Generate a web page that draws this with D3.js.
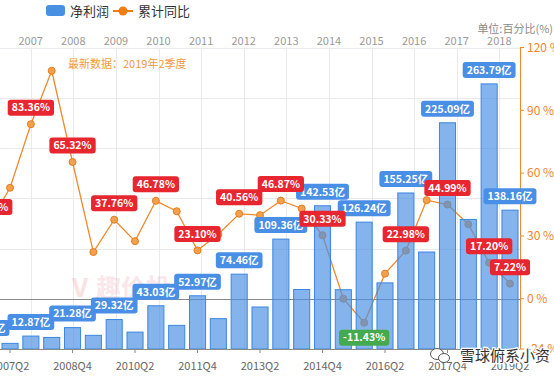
<!DOCTYPE html>
<html>
<head>
<meta charset="utf-8">
<script src="https://cdn.jsdelivr.net/npm/d3@7"></script>
<style>
  body { margin: 0; background: #fff; }
  svg { display: block; font-family: "Microsoft YaHei", "Noto Sans CJK SC", sans-serif; }
</style>
</head>
<body>
<div id="chart"></div>
<script>
var periods = ["2006Q4", "2007Q2", "2007Q4", "2008Q2", "2008Q4", "2009Q2", "2009Q4", "2010Q2", "2010Q4",
    "2011Q2", "2011Q4", "2012Q2", "2012Q4", "2013Q2", "2013Q4", "2014Q2", "2014Q4", "2015Q2", "2015Q4",
    "2016Q2", "2016Q4", "2017Q2", "2017Q4", "2018Q2", "2018Q4", "2019Q2"];
// 净利润 (亿)
var profit = [7.02, 5.6, 12.87, 11.5, 21.28, 13.6, 29.32, 16.8, 43.03, 23.5, 52.97, 30.2, 74.46,
    41.8, 109.36, 59.2, 142.53, 59.0, 126.24, 65.8, 155.25, 96.5, 225.09, 128.9, 263.79, 138.16];
// 累计同比 (%)
var growth = [36.0, 53.0, 83.36, 108.9, 65.32, 22.3, 37.76, 27.5, 46.78, 41.8, 23.10, 30.8, 40.56,
    39.9, 46.87, 43.1, 30.33, 0.0, -11.43, 12.0, 22.98, 47.1, 44.99, 35.6, 17.20, 7.22];
var bottomTicks = ["2007Q2", "2008Q4", "2010Q2", "2011Q4", "2013Q2", "2014Q4", "2016Q2", "2017Q4", "2019Q2"];
var years = [2007, 2008, 2009, 2010, 2011, 2012, 2013, 2014, 2015, 2016, 2017, 2018];
var rightTicks = [120, 90, 60, 30, 0, -24];
var leftTicks = [0, 50, 100, 150, 200, 250, 300];

var width = 554, height = 381,
    plotTop = 47.5, plotBottom = 349, plotLeft = -21.2, plotRight = 520.4,
    axisX = 520;

var data = periods.map(function (p, i) {
    return { period: p, profit: profit[i], growth: growth[i],
        labeled: /Q4$/.test(p) || i === periods.length - 1 };
});

var x = d3.scaleBand().domain(periods).range([plotLeft, plotRight]).paddingInner(0.18).paddingOuter(0.09);
var yL = d3.scaleLinear().domain([0, 300]).range([plotBottom, plotTop]);
var yR = d3.scaleLinear().domain([-24, 120]).range([plotBottom, plotTop]);
var xYear = d3.scaleLinear().domain([2007, 2018]).range([30.7, 499.3]);
var cx = function (d) { return x(d.period) + x.bandwidth() / 2; };

var svg = d3.select("#chart").append("svg").attr("width", width).attr("height", height);

// grid
svg.append("g").selectAll("line").data(leftTicks.slice(1)).join("line")
    .attr("x1", 0).attr("x2", axisX)
    .attr("y1", function (d) { return Math.round(yL(d)) + 0.5; })
    .attr("y2", function (d) { return Math.round(yL(d)) + 0.5; })
    .attr("stroke", "#e9e9ee");
svg.append("g").selectAll("line").data(years).join("line")
    .attr("x1", function (d) { return Math.round(xYear(d)) + 0.5; })
    .attr("x2", function (d) { return Math.round(xYear(d)) + 0.5; })
    .attr("y1", plotTop).attr("y2", plotBottom)
    .attr("stroke", "#e9e9ee");

// top year axis
svg.append("g").selectAll("text").data(years).join("text")
    .attr("x", function (d) { return xYear(d); })
    .attr("y", 45)
    .attr("text-anchor", "middle")
    .attr("font-size", 11)
    .attr("fill", "#9a9a9a")
    .text(function (d) { return d; });

// watermark
var wm = svg.append("g").attr("opacity", 0.28);
wm.append("text").attr("x", 72).attr("y", 297).attr("font-size", 26).attr("font-weight", "bold")
    .attr("fill", "#f29a9a").text("V");
wm.append("text").attr("x", 96).attr("y", 297).attr("font-size", 25).attr("font-weight", "bold")
    .attr("fill", "#f0a8b8").text("趣价投");

// zero line
svg.append("line")
    .attr("x1", 0).attr("x2", axisX)
    .attr("y1", Math.round(yR(0)) + 0.5).attr("y2", Math.round(yR(0)) + 0.5)
    .attr("stroke", "#8a8a8a");

// growth line
var line = d3.line().x(cx).y(function (d) { return yR(d.growth); });
svg.append("path").datum(data)
    .attr("d", line)
    .attr("fill", "none")
    .attr("stroke", "#f0892c")
    .attr("stroke-width", 1.3);
svg.append("g").selectAll("circle").data(data).join("circle")
    .attr("cx", cx)
    .attr("cy", function (d) { return yR(d.growth); })
    .attr("r", 3.5)
    .attr("fill", "#f5a04c")
    .attr("stroke", "#e57d1c");

// bars
svg.append("g").selectAll("rect").data(data).join("rect")
    .attr("x", function (d) { return x(d.period) + 0.5; })
    .attr("y", function (d) { return yL(d.profit); })
    .attr("width", x.bandwidth() - 1)
    .attr("height", function (d) { return plotBottom - yL(d.profit); })
    .attr("fill", "#4a90e2")
    .attr("fill-opacity", 0.68)
    .attr("stroke", "#3b86e3")
    .attr("stroke-width", 1);

// bottom axis
svg.append("line").attr("x1", 0).attr("x2", axisX).attr("y1", plotBottom + 0.5).attr("y2", plotBottom + 0.5)
    .attr("stroke", "#8a8a8a");
var bt = svg.append("g").selectAll("g").data(bottomTicks).join("g")
    .attr("transform", function (d) { return "translate(" + (x(d) + x.bandwidth() / 2) + "," + plotBottom + ")"; });
bt.append("line").attr("y1", 0).attr("y2", 4).attr("stroke", "#8a8a8a");
bt.append("text").attr("y", 21).attr("text-anchor", "middle").attr("font-size", 11)
    .attr("fill", "#666").text(function (d) { return d; });

// right axis
svg.append("line").attr("x1", axisX + 0.5).attr("x2", axisX + 0.5).attr("y1", plotTop).attr("y2", plotBottom)
    .attr("stroke", "#f0892c");
var rt = svg.append("g").selectAll("g").data(rightTicks).join("g")
    .attr("transform", function (d) { return "translate(" + axisX + "," + yR(d) + ")"; });
rt.append("line").attr("x1", 0).attr("x2", 4).attr("stroke", "#f0892c");
rt.append("text").attr("x", 7).attr("dy", "0.35em").attr("font-size", 12)
    .attr("fill", "#f0852d").text(function (d) { return d + " %"; });

// labels
function bubble(g, cxv, yEdge, txt, color, below) {
    var t = g.append("text").attr("font-size", 10.5).attr("font-weight", "bold")
        .attr("fill", "#fff").attr("text-anchor", "middle").text(txt);
    var w = t.node().getComputedTextLength() + 8, h = 16;
    var y0 = below ? yEdge : yEdge - h;
    g.insert("rect", "text").attr("x", cxv - w / 2).attr("y", y0).attr("width", w).attr("height", h)
        .attr("rx", 3).attr("fill", color);
    t.attr("x", cxv).attr("y", y0 + h / 2).attr("dy", "0.36em");
}
var labeled = data.filter(function (d) { return d.labeled; });
labeled.forEach(function (d) {
    bubble(svg.append("g"), cx(d), yL(d.profit) - 6, d.profit.toFixed(2) + "亿", "#4a8fe6", false);
});
labeled.forEach(function (d) {
    var neg = d.growth < 0;
    bubble(svg.append("g"), cx(d), neg ? yR(d.growth) + 7 : yR(d.growth) - 8.5,
        d.growth.toFixed(2) + "%", neg ? "#45a94f" : "#e8262f", neg);
});

// annotations
svg.append("text").attr("x", 68).attr("y", 68).attr("font-size", 11).attr("fill", "#f39a3c")
    .text("最新数据：2019年2季度");
svg.append("text").attr("x", 553).attr("y", 33).attr("text-anchor", "end").attr("font-size", 11)
    .attr("fill", "#8a8a8a").text("单位:百分比(%)");

// legend
svg.append("rect").attr("x", 46).attr("y", 5).attr("width", 19).attr("height", 11).attr("rx", 3)
    .attr("fill", "#4a90e2");
svg.append("text").attr("x", 70).attr("y", 15.5).attr("font-size", 13).attr("fill", "#333").text("净利润");
svg.append("line").attr("x1", 113).attr("x2", 133).attr("y1", 11).attr("y2", 11)
    .attr("stroke", "#f07c14").attr("stroke-width", 2);
svg.append("circle").attr("cx", 123).attr("cy", 11).attr("r", 4.5).attr("fill", "#f07c14");
svg.append("text").attr("x", 138).attr("y", 15.5).attr("font-size", 13).attr("fill", "#333").text("累计同比");

// account mark
var acc = svg.append("g");
acc.append("ellipse").attr("cx", 437).attr("cy", 354).attr("rx", 6.5).attr("ry", 5.5)
    .attr("fill", "#fff").attr("stroke", "#555").attr("stroke-width", 1);
acc.append("ellipse").attr("cx", 444).attr("cy", 358).attr("rx", 5.5).attr("ry", 4.5)
    .attr("fill", "#fff").attr("stroke", "#555").attr("stroke-width", 1);
acc.append("text").attr("x", 460).attr("y", 361).attr("font-size", 15)
    .attr("fill", "#333").attr("stroke", "#fff").attr("stroke-width", 2.5).attr("paint-order", "stroke")
    .text("雪球俯系小资");
</script>
</body>
</html>
